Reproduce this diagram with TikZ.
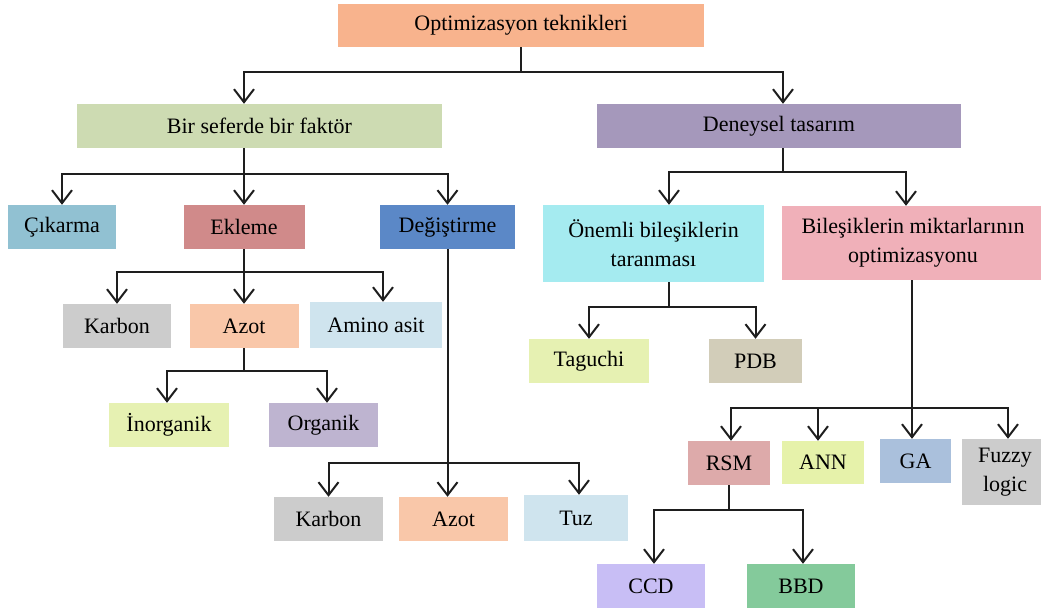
\documentclass[tikz,border=0pt]{standalone}
\usepackage{fontspec}
\setmainfont{Liberation Serif}
\usetikzlibrary{arrows.meta,positioning}

\definecolor{cOpt}{RGB}{248,179,141}
\definecolor{cBir}{RGB}{205,219,178}
\definecolor{cDen}{RGB}{165,152,187}
\definecolor{cCik}{RGB}{145,193,210}
\definecolor{cEkl}{RGB}{208,138,138}
\definecolor{cDeg}{RGB}{91,136,199}
\definecolor{cOnem}{RGB}{165,235,240}
\definecolor{cBil}{RGB}{240,176,185}
\definecolor{cKarb}{RGB}{204,204,204}
\definecolor{cAzot}{RGB}{249,199,169}
\definecolor{cAmino}{RGB}{207,228,238}
\definecolor{cIno}{RGB}{230,241,178}
\definecolor{cOrg}{RGB}{190,180,208}
\definecolor{cPdb}{RGB}{210,205,185}
\definecolor{cRsm}{RGB}{221,170,170}
\definecolor{cAnn}{RGB}{230,242,170}
\definecolor{cGa}{RGB}{170,192,220}
\definecolor{cCcd}{RGB}{200,190,245}
\definecolor{cBbd}{RGB}{132,202,155}
\definecolor{cLine}{RGB}{30,30,30}

\tikzset{
  box/.style={rectangle, inner sep=0pt, align=center,
    font=\fontsize{22}{29}\selectfont},
  arr/.style={draw=cLine, line width=2pt,
    -{Straight Barb[length=13pt,width=20pt]}},
  ln/.style={draw=cLine, line width=2pt}
}

\begin{document}
\begin{tikzpicture}[x=1pt,y=-1pt]
\useasboundingbox (0,0) rectangle (1041,612);

%TOP
  \node[box, fill=cOpt, minimum width=366pt, minimum height=43pt] (opt) at (521,25.5) {Optimizasyon teknikleri};
  \node[box, fill=cBir, minimum width=365pt, minimum height=44pt] (bir) at (259.5,126) {Bir seferde bir faktör};
  \node[box, fill=cDen, minimum width=364pt, minimum height=44pt] (den) at (779,126) {Deneysel tasarım};
  \coordinate (j0) at (521,72);
  \draw[ln] (opt.south) -- (j0);
  \draw[arr] (j0) -| ([xshift=-15.5pt]bir.north);
  \draw[arr] (j0) -| ([xshift=4pt]den.north);

%BIR SEFERDE BIR FAKTOR
  \node[box, fill=cCik, minimum width=108pt, minimum height=44pt] (cik) at (62,227) {Çıkarma};
  \node[box, fill=cEkl, minimum width=121pt, minimum height=44pt] (ekl) at (244,227) {Ekleme};
  \node[box, fill=cDeg, minimum width=135pt, minimum height=44pt] (deg) at (447.5,227) {Değiştirme};
  \coordinate (j1) at (244,174);
  \draw[ln] ([xshift=-15.5pt]bir.south) -- (j1);
  \draw[arr] (j1) -| (cik.north);
  \draw[arr] (j1) -- (ekl.north);
  \draw[arr] (j1) -| (deg.north);

  \node[box, fill=cKarb, minimum width=108pt, minimum height=44pt] (karb1) at (117,326) {Karbon};
  \node[box, fill=cAzot, minimum width=109pt, minimum height=44pt] (azot1) at (244,326) {Azot};
  \node[box, fill=cAmino, minimum width=132pt, minimum height=46pt] (amino) at (376,325) {Amino asit};
  \coordinate (j3) at (244,272);
  \draw[ln] (ekl.south) -- (j3);
  \draw[arr] (j3) -| (karb1.north);
  \draw[arr] (j3) -- (azot1.north);
  \draw[arr] (j3) -| ([xshift=7pt]amino.north);

  \node[box, fill=cIno, minimum width=120pt, minimum height=44pt] (ino) at (169,425) {İnorganik};
  \node[box, fill=cOrg, minimum width=109pt, minimum height=44pt] (org) at (323.5,425) {Organik};
  \coordinate (j4) at (244,371);
  \draw[ln] (azot1.south) -- (j4);
  \draw[arr] (j4) -| ([xshift=-2pt]ino.north);
  \draw[arr] (j4) -| ([xshift=3.5pt]org.north);

  \node[box, fill=cKarb, minimum width=109pt, minimum height=44pt] (karb2) at (328.5,519) {Karbon};
  \node[box, fill=cAzot, minimum width=109pt, minimum height=44pt] (azot2) at (453.5,519) {Azot};
  \node[box, fill=cAmino, minimum width=104pt, minimum height=46pt] (tuz) at (576,518) {Tuz};
  \coordinate (j5) at (447.5,463);
  \draw[arr] (deg.south) -- (deg.south |- azot2.north);
  \draw[arr] (j5) -| (karb2.north);
  \draw[arr] (j5) -| ([xshift=3pt]tuz.north);

%DENEYSEL TASARIM
  \node[box, fill=cOnem, minimum width=221pt, minimum height=77pt] (onem) at (653.5,243.5) {Önemli bileşiklerin\\taranması};
  \node[box, fill=cBil, minimum width=263pt, minimum height=74pt] (bil) at (913,243) {Bileşiklerin miktarlarının\\optimizasyonu};
  \coordinate (j2) at (783,172);
  \draw[ln] ([xshift=4pt]den.south) -- (j2);
  \draw[arr] (j2) -| ([xshift=15.5pt]onem.north);
  \draw[arr] (j2) -| ([xshift=-7pt]bil.north);

  \node[box, fill=cIno, minimum width=120pt, minimum height=44pt] (tag) at (589,361) {Taguchi};
  \node[box, fill=cPdb, minimum width=93pt, minimum height=44pt] (pdb) at (755.5,361) {PDB};
  \coordinate (j6) at (669,307);
  \draw[ln] ([xshift=15.5pt]onem.south) -- (j6);
  \draw[arr] (j6) -| (tag.north);
  \draw[arr] (j6) -| (pdb.north);

  \node[box, fill=cRsm, minimum width=82pt, minimum height=44pt] (rsm) at (729,463) {RSM};
  \node[box, fill=cAnn, minimum width=82pt, minimum height=43pt] (ann) at (823,462.5) {ANN};
  \node[box, fill=cGa, minimum width=71pt, minimum height=44pt] (ga) at (915.5,461) {GA};
  \node[box, fill=cKarb, minimum width=86pt, minimum height=66pt] (fuz) at (1005,472) {Fuzzy\\logic};
  \coordinate (j7) at (912,408);
  \draw[arr] ([xshift=-1pt]bil.south) -- ([xshift=-1pt]bil.south |- ga.north);
  \draw[arr] (j7) -| ([xshift=2pt]rsm.north);
  \draw[arr] (j7) -| ([xshift=-5pt]ann.north);
  \draw[arr] (j7) -| ([xshift=3pt]fuz.north);

  \node[box, fill=cCcd, minimum width=108pt, minimum height=44pt] (ccd) at (651,586) {CCD};
  \node[box, fill=cBbd, minimum width=108pt, minimum height=44pt] (bbd) at (801,586) {BBD};
  \coordinate (j8) at (729,510);
  \draw[ln] (rsm.south) -- (j8);
  \draw[arr] (j8) -| ([xshift=3pt]ccd.north);
  \draw[arr] (j8) -| ([xshift=2pt]bbd.north);
\end{tikzpicture}
\end{document}
